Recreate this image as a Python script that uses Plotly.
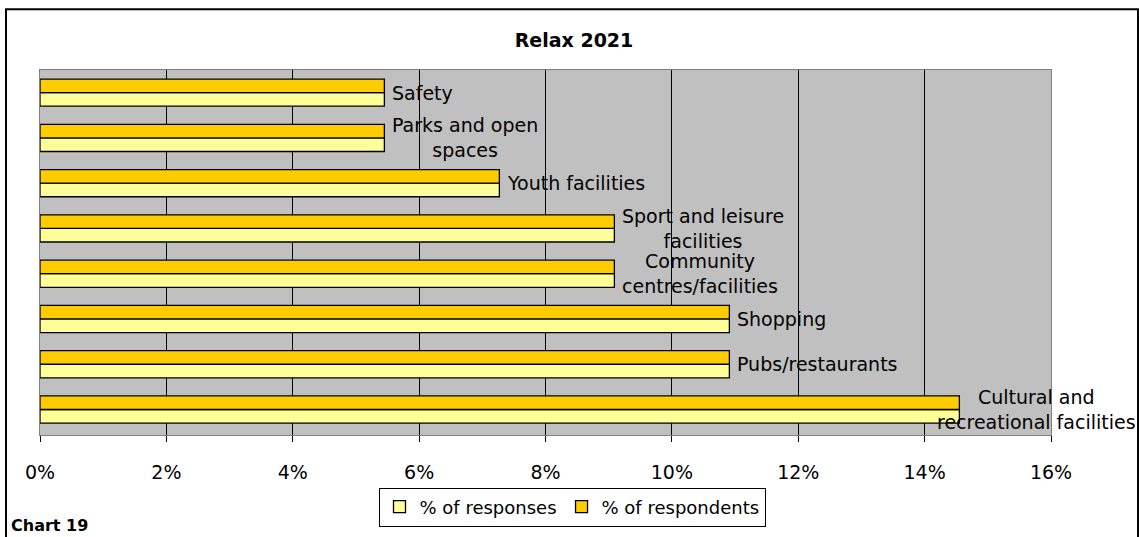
import plotly.graph_objects as go

# categories, top to bottom as in the chart
categories = [
    "Safety",
    "Parks and open spaces",
    "Youth facilities",
    "Sport and leisure facilities",
    "Community centres/facilities",
    "Shopping",
    "Pubs/restaurants",
    "Cultural and recreational facilities",
]
# label text as wrapped in the chart
label_text = [
    "Safety",
    "Parks and open<br>spaces",
    "Youth facilities",
    "Sport and leisure<br>facilities",
    "Community<br>centres/facilities",
    "Shopping",
    "Pubs/restaurants",
    "Cultural and<br>recreational facilities",
]
pct_responses = [5.45, 5.45, 7.27, 9.09, 9.09, 10.91, 10.91, 14.55]
pct_respondents = [5.45, 5.45, 7.27, 9.09, 9.09, 10.91, 10.91, 14.55]
x_ticks = [0, 2, 4, 6, 8, 10, 12, 14, 16]

W, H = 1139, 537
ML, MR, MT, MB = 40, 88, 70, 101
PW, PH = W - ML - MR, H - MT - MB
FONT = "DejaVu Sans"


def px_x(px):
    return (px - ML) / PW


def px_y(py):
    return (H - MB - py) / PH


fig = go.Figure()

fig.add_trace(go.Bar(
    y=categories, x=pct_responses, orientation="h",
    name="% of responses",
    marker=dict(color="#FFFF99", line=dict(color="black", width=1.3)),
))
fig.add_trace(go.Bar(
    y=categories, x=pct_respondents, orientation="h",
    name="% of respondents",
    marker=dict(color="#FFCC00", line=dict(color="black", width=1.3)),
))

# category labels to the right of the bars
shift_left = {"Cultural and recreational facilities": -24}
for cat, txt, a, b in zip(categories, label_text, pct_responses, pct_respondents):
    fig.add_annotation(
        x=max(a, b), y=cat, text=txt, showarrow=False,
        xanchor="left", yanchor="middle", align="center",
        xshift=shift_left.get(cat, 6),
        font=dict(family=FONT, size=19, color="black"),
    )

fig.add_annotation(
    x=px_x(9), y=px_y(527), xref="paper", yref="paper",
    text="<b>Chart 19</b>", showarrow=False,
    xanchor="left", yanchor="middle",
    font=dict(family=FONT, size=16, color="black"),
)

# outer frame
fig.add_shape(
    type="rect", xref="paper", yref="paper",
    x0=px_x(6), x1=px_x(1138), y0=px_y(560), y1=px_y(9),
    line=dict(color="black", width=2), fillcolor="rgba(0,0,0,0)",
)

fig.update_layout(
    width=W, height=H,
    margin=dict(l=ML, r=MR, t=MT, b=MB),
    paper_bgcolor="white",
    plot_bgcolor="#C0C0C0",
    barmode="group",
    bargap=0.4,
    bargroupgap=0,
    font=dict(family=FONT, size=19, color="black"),
    title=dict(
        text="<b>Relax 2021</b>", xref="paper", x=px_x(574), xanchor="center",
        y=1 - 40 / H, yanchor="middle",
        font=dict(family=FONT, size=19, color="black"),
    ),
    legend=dict(
        orientation="h", x=px_x(572), y=px_y(507), xanchor="center", yanchor="middle",
        bordercolor="black", borderwidth=1, bgcolor="white",
        font=dict(family=FONT, size=18, color="black"),
        itemwidth=30,
    ),
)

fig.update_xaxes(
    range=[0, 16], tickvals=x_ticks, ticktext=[f"{t}%" for t in x_ticks],
    showgrid=True, gridcolor="black", gridwidth=1, zeroline=False,
    showline=True, linecolor="#808080", linewidth=1, mirror=True,
    ticks="outside", ticklen=6, tickcolor="black",
    ticklabelstandoff=14,
    tickfont=dict(family=FONT, size=19, color="black"),
)
fig.update_yaxes(
    categoryorder="array", categoryarray=categories[::-1],
    showticklabels=False, showgrid=False, zeroline=False,
    showline=True, linecolor="#808080", linewidth=1, mirror=True,
)

# drop the default page margin so the figure sits at the window's corner
fig.write_html(
    "out.html",
    config={"displayModeBar": False},
    post_script="document.body.style.margin='0';",
)
